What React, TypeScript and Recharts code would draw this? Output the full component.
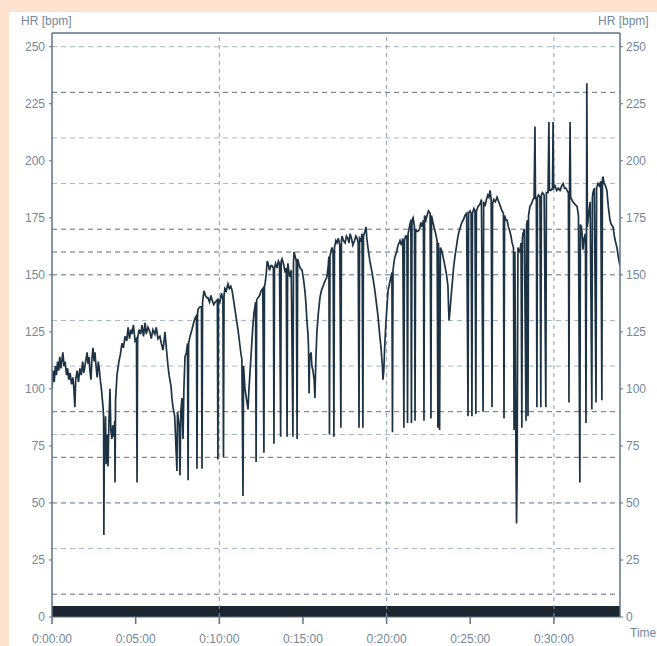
import { LineChart, Line, XAxis, YAxis, ReferenceLine, ReferenceArea } from 'recharts'

// heart rate trace: [seconds, bpm]
const HR_SAMPLES: [number, number][] = [
  [0, 100], [4, 108], [8, 103], [12, 110], [16, 106], [20, 112], [24, 108], [28, 114], [32, 109], [36, 113],
  [39, 116], [43, 110], [47, 112], [52, 106], [56, 109], [60, 104], [65, 107], [70, 102], [75, 105], [78, 101],
  [82, 92], [85, 104], [90, 108], [95, 103], [100, 109], [105, 106], [110, 112], [114, 107], [118, 110], [122, 113],
  [126, 116], [129, 111], [133, 114], [136, 108], [140, 104], [143, 113], [147, 118], [151, 112], [154, 116], [158, 110],
  [162, 105], [166, 112], [170, 108], [174, 103], [178, 99], [183, 92], [185, 88], [186, 36], [188, 84], [190, 76],
  [192, 88], [194, 67], [197, 80], [201, 66], [204, 85], [208, 100], [211, 82], [215, 78], [218, 84], [222, 79],
  [225, 86], [226, 59], [228, 95], [233, 106], [240, 112], [245, 115], [251, 120], [256, 118], [262, 123], [268, 121],
  [273, 127], [278, 122], [283, 126], [287, 124], [292, 128], [298, 121], [303, 122], [305, 59], [307, 122], [312, 126],
  [318, 124], [323, 128], [328, 123], [334, 129], [338, 124], [344, 127], [351, 125], [356, 122], [362, 126], [369, 124],
  [374, 127], [380, 122], [387, 123], [392, 120], [398, 117], [402, 121], [405, 125], [410, 118], [416, 110], [420, 106],
  [427, 101], [430, 96], [434, 92], [440, 88], [448, 64], [450, 90], [452, 88], [456, 84], [459, 62], [462, 90],
  [466, 96], [468, 86], [470, 78], [473, 100], [477, 114], [482, 116], [486, 120], [488, 60], [490, 120], [495, 123],
  [502, 126], [508, 129], [513, 131], [518, 132], [520, 65], [522, 133], [524, 135], [531, 136], [536, 136], [538, 65],
  [540, 138], [545, 143], [550, 141], [555, 140], [559, 140], [565, 138], [570, 141], [574, 139], [580, 137], [585, 138],
  [593, 139], [595, 69], [597, 139], [602, 138], [608, 142], [613, 139], [615, 70], [617, 141], [620, 144], [625, 143],
  [631, 146], [636, 144], [641, 145], [646, 143], [651, 139], [656, 135], [662, 130], [667, 126], [673, 120], [678, 115],
  [681, 113], [685, 53], [687, 110], [692, 100], [697, 96], [703, 91], [706, 99], [710, 107], [714, 115], [717, 121],
  [720, 127], [724, 133], [730, 138], [732, 68], [734, 139], [739, 140], [745, 141], [750, 143], [756, 144], [760, 72],
  [762, 145], [764, 146], [768, 150], [772, 156], [775, 155], [780, 152], [785, 154], [789, 154], [794, 153], [796, 76],
  [798, 153], [802, 155], [807, 153], [812, 156], [816, 155], [820, 79], [822, 156], [825, 157], [830, 155], [836, 151],
  [840, 153], [843, 79], [845, 153], [846, 155], [850, 151], [853, 149], [858, 152], [864, 79], [866, 155], [868, 160],
  [872, 158], [876, 156], [879, 78], [881, 157], [885, 155], [890, 153], [897, 152], [902, 148], [907, 143], [911, 137],
  [914, 130], [918, 124], [920, 118], [922, 98], [924, 114], [929, 116], [932, 110], [936, 108], [940, 104], [943, 96],
  [946, 112], [950, 125], [955, 133], [961, 140], [966, 143], [972, 145], [978, 147], [986, 149], [990, 153], [993, 158],
  [995, 80], [997, 158], [1000, 160], [1004, 162], [1008, 160], [1011, 79], [1013, 162], [1018, 165], [1022, 164], [1027, 166],
  [1032, 163], [1036, 83], [1038, 165], [1040, 167], [1045, 165], [1051, 164], [1056, 167], [1061, 166], [1065, 164], [1069, 168],
  [1074, 166], [1079, 163], [1085, 165], [1090, 167], [1094, 166], [1098, 164], [1101, 83], [1103, 166], [1108, 165], [1112, 168],
  [1115, 83], [1117, 167], [1122, 169], [1126, 171], [1129, 166], [1133, 162], [1140, 156], [1148, 151], [1153, 147], [1158, 143],
  [1163, 138], [1169, 132], [1175, 124], [1180, 118], [1183, 113], [1185, 110], [1187, 104], [1190, 108], [1193, 118], [1198, 130],
  [1202, 137], [1205, 143], [1212, 147], [1219, 151], [1221, 81], [1223, 152], [1227, 156], [1230, 158], [1236, 160], [1241, 163],
  [1245, 164], [1248, 165], [1253, 163], [1258, 166], [1262, 83], [1264, 165], [1268, 167], [1273, 167], [1275, 85], [1277, 168],
  [1282, 171], [1287, 174], [1289, 85], [1291, 174], [1295, 175], [1300, 171], [1302, 86], [1304, 170], [1308, 169], [1312, 169],
  [1318, 170], [1323, 173], [1327, 171], [1332, 174], [1334, 86], [1336, 176], [1341, 174], [1345, 176], [1350, 178], [1356, 177],
  [1359, 87], [1361, 176], [1366, 173], [1372, 170], [1376, 168], [1381, 165], [1384, 83], [1386, 164], [1390, 82], [1393, 162],
  [1399, 160], [1404, 157], [1409, 154], [1415, 150], [1420, 145], [1422, 136], [1424, 130], [1427, 134], [1431, 140], [1436, 147],
  [1440, 153], [1445, 158], [1450, 162], [1456, 167], [1462, 170], [1470, 173], [1475, 174], [1481, 176], [1487, 177], [1492, 88],
  [1494, 177], [1499, 178], [1503, 177], [1506, 88], [1508, 177], [1513, 179], [1517, 178], [1520, 89], [1522, 178], [1528, 180],
  [1535, 181], [1540, 183], [1546, 90], [1548, 182], [1553, 180], [1558, 183], [1563, 185], [1567, 184], [1571, 187], [1575, 183],
  [1578, 92], [1580, 181], [1584, 183], [1590, 182], [1596, 184], [1602, 182], [1608, 180], [1614, 178], [1619, 177], [1621, 87],
  [1623, 176], [1628, 174], [1632, 174], [1637, 171], [1642, 169], [1646, 167], [1650, 164], [1655, 162], [1657, 82], [1660, 160],
  [1664, 69], [1666, 41], [1668, 62], [1671, 162], [1675, 160], [1678, 160], [1682, 164], [1685, 83], [1687, 166], [1689, 168],
  [1694, 170], [1700, 86], [1702, 172], [1705, 174], [1707, 88], [1709, 176], [1714, 180], [1719, 181], [1725, 183], [1729, 184],
  [1732, 215], [1734, 183], [1737, 184], [1739, 92], [1741, 184], [1745, 185], [1750, 184], [1753, 92], [1755, 185], [1759, 186],
  [1765, 185], [1771, 92], [1773, 186], [1779, 186], [1782, 217], [1784, 187], [1789, 187], [1795, 188], [1797, 217], [1799, 188],
  [1804, 189], [1810, 187], [1816, 188], [1822, 187], [1828, 189], [1833, 190], [1838, 188], [1843, 188], [1847, 187], [1852, 186],
  [1854, 94], [1856, 186], [1858, 217], [1860, 184], [1864, 183], [1868, 182], [1875, 181], [1883, 180], [1888, 176], [1893, 59],
  [1895, 172], [1899, 171], [1901, 168], [1904, 161], [1908, 166], [1913, 168], [1915, 85], [1917, 170], [1918, 234], [1920, 171],
  [1924, 176], [1930, 182], [1936, 91], [1938, 184], [1940, 186], [1945, 188], [1951, 94], [1953, 188], [1958, 190], [1963, 189],
  [1968, 191], [1972, 95], [1974, 192], [1976, 193], [1980, 190], [1985, 189], [1990, 187], [1995, 180], [2001, 174], [2006, 172],
  [2012, 171], [2018, 166], [2026, 162], [2032, 157], [2037, 154],
]

const Y_TICKS = [0, 25, 50, 75, 100, 125, 150, 175, 200, 225, 250]
const X_TICKS = [0, 300, 600, 900, 1200, 1500, 1800]
const ZONES_DARK = [10, 50, 70, 90, 150, 160, 170, 230]
const ZONES_LIGHT = [30, 80, 110, 130, 190, 210, 250]
const SPLITS = [600, 1200, 1800]

const DURATION = 2037
const HR_TOP = 256

const data = HR_SAMPLES.map(([t, hr]) => ({ t, hr }))

const pad = (n: number) => String(n).padStart(2, '0')
const fmtTime = (s: number) => `${Math.floor(s / 3600)}:${pad(Math.floor(s / 60) % 60)}:${pad(s % 60)}`

const axisColor = '#5f7387'
const tickStyle = { fontSize: 12, fill: '#75879a', fontFamily: '"Liberation Sans", Arial, sans-serif' }
const labelStyle: React.CSSProperties = {
  position: 'absolute', fontSize: 12, color: '#75879a', fontFamily: '"Liberation Sans", Arial, sans-serif',
  whiteSpace: 'nowrap', lineHeight: '14px',
}

export default function App() {
  return (
    <div style={{ position: 'absolute', left: 0, top: 0, width: 657, height: 646, background: '#fde3cf', overflow: 'hidden' }}>
      <div style={{ position: 'absolute', left: 9, top: 12, right: 0, bottom: 0, background: '#ffffff' }} />
      <div style={{ ...labelStyle, left: 21, top: 14 }}>HR [bpm]</div>
      <div style={{ ...labelStyle, left: 598, top: 14 }}>HR [bpm]</div>
      <div style={{ ...labelStyle, left: 630, top: 626 }}>Time</div>
      <div style={{ position: 'absolute', left: 0, top: 0 }}>
        <LineChart width={657} height={646} data={data} margin={{ top: 33, right: 7, bottom: 4, left: 8 }}>
          <XAxis
            dataKey="t" type="number" domain={[0, DURATION]} ticks={X_TICKS} tickFormatter={fmtTime}
            height={25} tickSize={7} tickMargin={10} tick={tickStyle}
            axisLine={{ stroke: axisColor }} tickLine={{ stroke: axisColor, strokeWidth: 1.5 }}
            allowDataOverflow
          />
          <YAxis
            yAxisId="left" orientation="left" domain={[0, HR_TOP]} ticks={Y_TICKS} width={44}
            tickSize={3} tickMargin={4} tick={tickStyle}
            axisLine={{ stroke: axisColor, strokeWidth: 1.5 }} tickLine={{ stroke: axisColor }}
            allowDataOverflow
          />
          <YAxis
            yAxisId="right" orientation="right" domain={[0, HR_TOP]} ticks={Y_TICKS} width={30}
            tickSize={3} tickMargin={3} tick={tickStyle}
            axisLine={{ stroke: axisColor, strokeWidth: 1.5 }} tickLine={{ stroke: axisColor }}
            allowDataOverflow
          />
          {ZONES_LIGHT.map(v => (
            <ReferenceLine key={'l' + v} yAxisId="left" y={v} stroke="#a3b5c8" strokeDasharray="5 4" />
          ))}
          {ZONES_DARK.map(v => (
            <ReferenceLine key={'d' + v} yAxisId="left" y={v} stroke="#5e6f88" strokeDasharray="5 4" />
          ))}
          {SPLITS.map(s => (
            <ReferenceLine key={'s' + s} yAxisId="left" x={s} stroke="#8a9bb0" strokeDasharray="4 4" />
          ))}
          <ReferenceLine yAxisId="left" y={HR_TOP} stroke={axisColor} strokeWidth={1.5} />
          <ReferenceArea yAxisId="left" x1={0} x2={DURATION} y1={0} y2={4.8} fill="#1c2631" fillOpacity={1} stroke="none" />
          <Line
            yAxisId="left" type="linear" dataKey="hr" stroke="#1d3242" strokeWidth={1.7}
            dot={false} activeDot={false} isAnimationActive={false}
          />
        </LineChart>
      </div>
    </div>
  )
}
